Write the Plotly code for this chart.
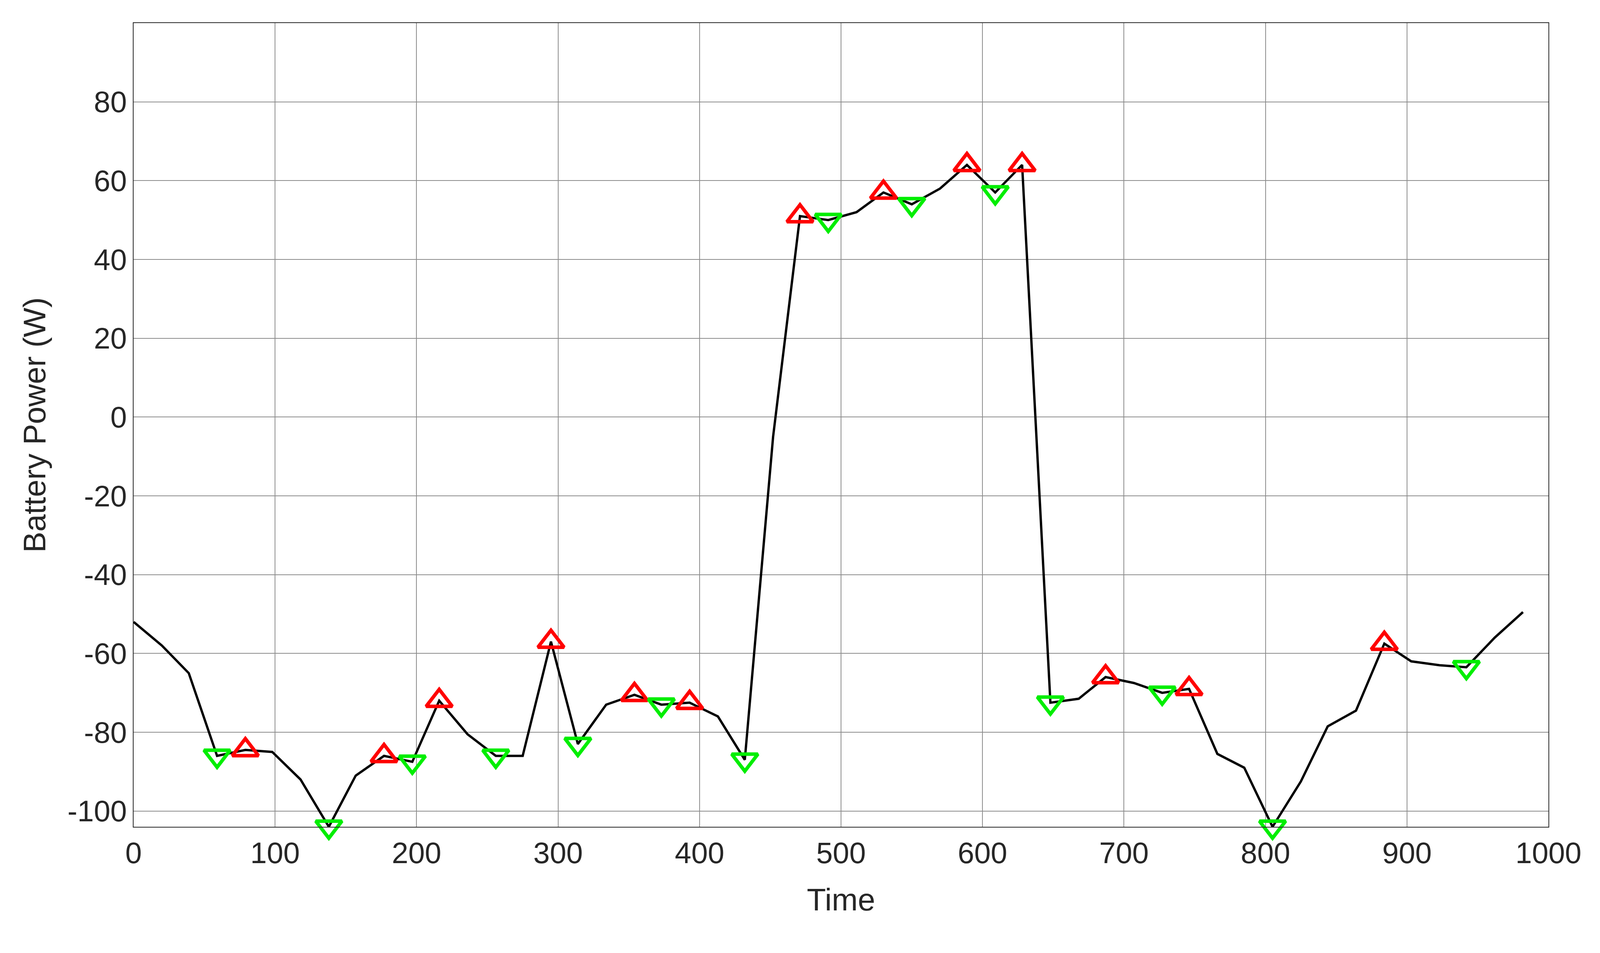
import plotly.graph_objects as go

time = [0, 20, 39, 59, 79, 98, 118, 138, 157, 177, 197, 216, 236, 256, 275, 295, 314,
        334, 354, 373, 393, 413, 432, 452, 471, 491, 511, 530, 550, 570, 589, 609, 628,
        648, 668, 687, 707, 727, 746, 766, 785, 805, 825, 844, 864, 884, 903, 923, 942,
        962, 982]
power = [-52, -58, -65, -86, -84.5, -85, -92, -104, -91, -86, -87.5, -72, -80.5, -86,
         -86, -57, -83, -73, -70.5, -73, -72.5, -76, -87, -5, 51, 50, 52, 57, 54, 58,
         64, 57, 64, -72.5, -71.5, -66, -67.5, -70, -69, -85.5, -89, -104, -92.5, -78.5,
         -74.5, -57.5, -62, -63, -63.5, -56, -49.5]
y_ticks = list(range(-100, 81, 20))
y_labels = [str(v) for v in y_ticks]

max_idx = [4, 9, 11, 15, 18, 20, 24, 27, 30, 32, 35, 38, 45]
min_idx = [3, 7, 10, 13, 16, 19, 22, 25, 28, 31, 33, 37, 41, 48]

fig = go.Figure()
fig.add_trace(go.Scatter(x=time, y=power, mode="lines",
                         line=dict(color="black", width=6), showlegend=False))
fig.add_trace(go.Scatter(x=[time[i] for i in max_idx], y=[power[i] for i in max_idx],
                         mode="markers", showlegend=False, cliponaxis=False,
                         marker=dict(symbol="triangle-up-open", size=58, color="red",
                                     line=dict(width=9, color="red"))))
fig.add_trace(go.Scatter(x=[time[i] for i in min_idx], y=[power[i] for i in min_idx],
                         mode="markers", showlegend=False, cliponaxis=False,
                         marker=dict(symbol="triangle-down-open", size=58, color="#00ee00",
                                     line=dict(width=9, color="#00ee00"))))

axis = dict(showgrid=True, gridcolor="#8c8c8c", gridwidth=2, showline=True,
            linecolor="#262626", linewidth=2, mirror=True, zeroline=False,
            ticks="", tickfont=dict(size=76, color="#262626"))
fig.update_layout(
    width=4184, height=2439,
    paper_bgcolor="white", plot_bgcolor="white",
    font=dict(family="Arial, Liberation Sans, sans-serif", color="#262626"),
    margin=dict(l=334, r=228, t=51, b=331),
    xaxis=dict(**axis, range=[0, 1000], dtick=100,
               title=dict(text="Time", font=dict(size=80), standoff=50)),
    yaxis=dict(**axis, range=[-104, 100], tickvals=y_ticks, ticktext=y_labels,
               title=dict(text="Battery Power (W)", font=dict(size=80), standoff=30)),
)
fig.write_html("out.html")
